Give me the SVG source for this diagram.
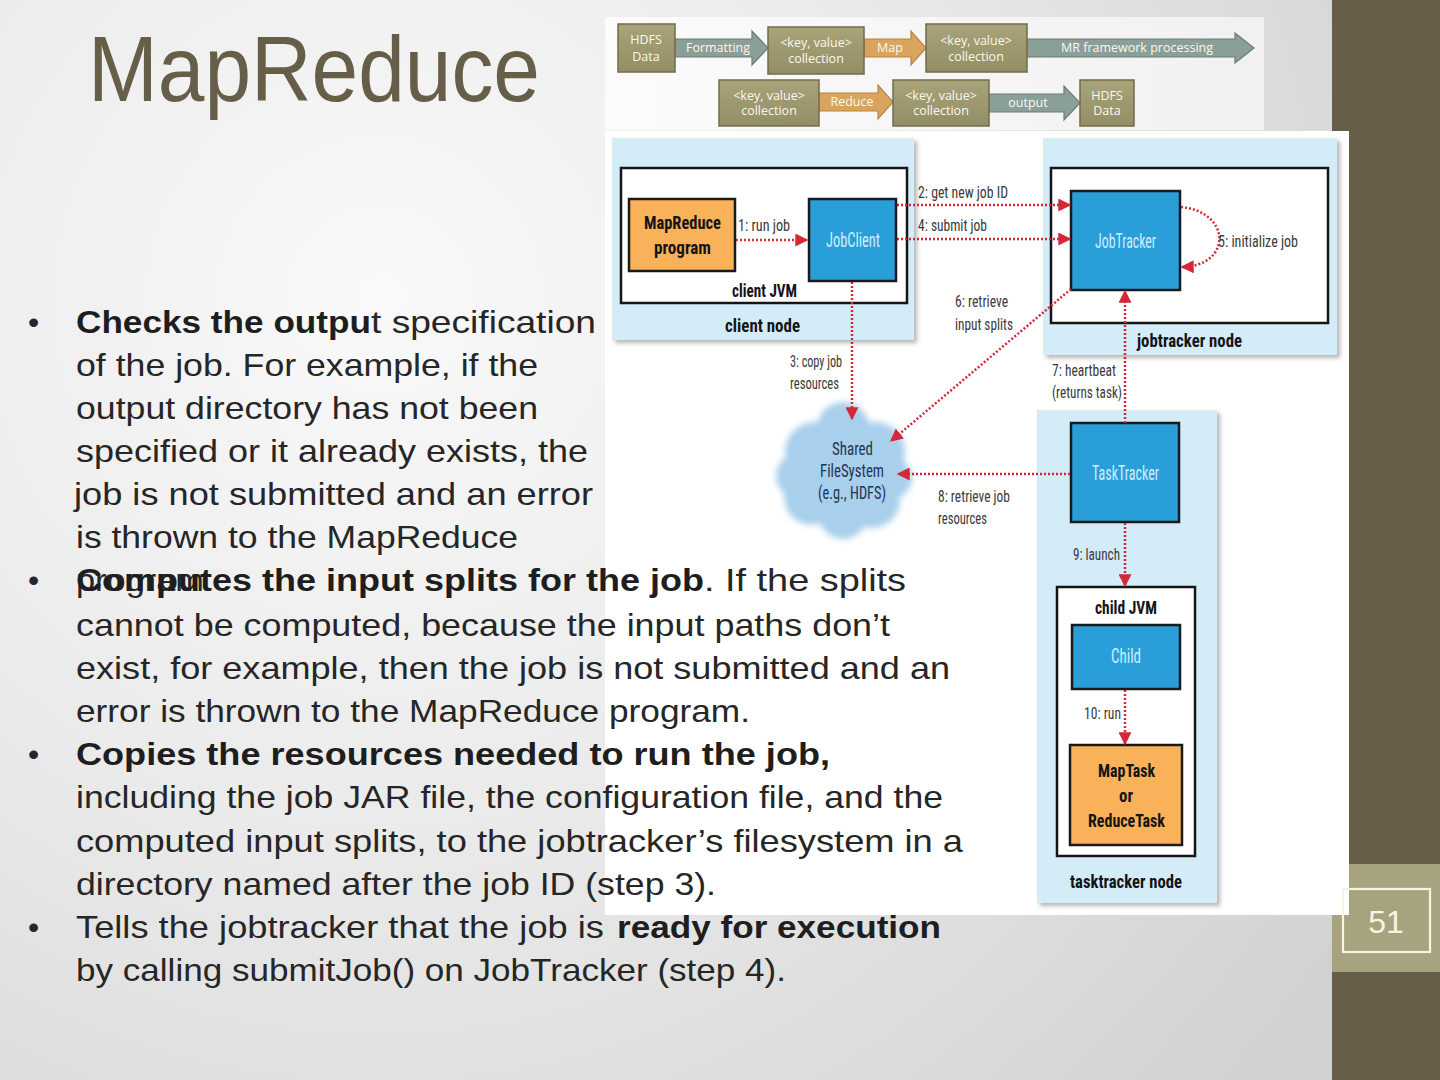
<svg xmlns="http://www.w3.org/2000/svg" width="1440" height="1080" viewBox="0 0 1440 1080">
<defs>
  <radialGradient id="bg" gradientUnits="userSpaceOnUse" cx="380" cy="300" r="1150">
    <stop offset="0" stop-color="#f9f9f9"/>
    <stop offset="0.45" stop-color="#ebebeb"/>
    <stop offset="1" stop-color="#d2d2d2"/>
  </radialGradient>
  <linearGradient id="strip" x1="0" y1="0" x2="1" y2="0">
    <stop offset="0" stop-color="#fbfbfb"/>
    <stop offset="1" stop-color="#f1f1f1"/>
  </linearGradient>
  <linearGradient id="olive" x1="0" y1="0" x2="0" y2="1">
    <stop offset="0" stop-color="#a9a37a"/>
    <stop offset="1" stop-color="#948e66"/>
  </linearGradient>
  <filter id="sh" x="-10%" y="-10%" width="125%" height="125%">
    <feDropShadow dx="3" dy="3" stdDeviation="2" flood-color="#7a7a7a" flood-opacity="0.55"/>
  </filter>
  <filter id="blur" x="-20%" y="-20%" width="140%" height="140%">
    <feGaussianBlur stdDeviation="3"/>
  </filter>
  <marker id="ah" viewBox="0 0 10 10" refX="9" refY="5" markerWidth="13" markerHeight="13" markerUnits="userSpaceOnUse" orient="auto">
    <path d="M0,0 L10,5 L0,10 z" fill="#d4283a"/>
  </marker>
  <style>
    .body{font-family:"Liberation Sans",Arial,sans-serif;font-size:32px;fill:#262626}
    .b{font-weight:bold;fill:#1e1e1e}
    .sbox{fill:url(#olive);stroke:#726c4a;stroke-width:1.5}
    .stxt{font-family:"Open Sans","Liberation Sans",sans-serif;font-size:12.5px;fill:#fbf8ec;text-anchor:middle}
    .garrow{fill:#8b9f99;stroke:#6b7d77;stroke-width:1.2}
    .oarrow{fill:#d9a55e;stroke:#b88644;stroke-width:1.2}
    .panel{fill:#d3ecf8}
    .jvm{fill:#ffffff;stroke:#151515;stroke-width:2.5}
    .blue{fill:#2a9ed9;stroke:#1a1a1a;stroke-width:2.5}
    .orange{fill:#f9b25a;stroke:#1a1a1a;stroke-width:2.5}
    .lbl{font-family:"Liberation Sans Narrow","Roboto Condensed","DejaVu Sans Condensed","Liberation Sans",sans-serif;font-size:16.5px;fill:#3a3a3a}
    .btxt{font-family:"Liberation Sans Narrow","Roboto Condensed","DejaVu Sans Condensed","Liberation Sans",sans-serif;font-size:20px;fill:#cdeeff}
    .bold{font-family:"Liberation Sans Narrow","Roboto Condensed","DejaVu Sans Condensed","Liberation Sans",sans-serif;font-size:19px;font-weight:bold;fill:#141414}
    .cl{font-family:"Liberation Sans Narrow","Roboto Condensed","DejaVu Sans Condensed","Liberation Sans",sans-serif;font-size:19px;fill:#1f3550}
    .dot{fill:none;stroke:#d4283a;stroke-width:2.5;stroke-dasharray:2 2}
  </style>
</defs>

<!-- background -->
<rect x="0" y="0" width="1440" height="1080" fill="url(#bg)"/>

<!-- right side bar -->
<g id="sidebar">
  <rect x="1332" y="0" width="108" height="1080" fill="#665e48"/>
  <rect x="1332" y="864" width="108" height="108" fill="#a8a37f"/>
</g>

<!-- title -->
<text id="title" x="88" y="101" font-family="'Liberation Sans',Arial,sans-serif" font-size="92" fill="#665e48" textLength="452" lengthAdjust="spacingAndGlyphs">MapReduce</text>

<!-- top flow strip -->
<g id="flowstrip">
  <rect x="605" y="17" width="659" height="113" fill="url(#strip)"/>
  <polygon class="garrow" points="675,39 752,39 752,31 768,48 752,65 752,57 675,57"/>
  <polygon class="oarrow" points="864,39 911,39 911,31 926,48 911,65 911,57 864,57"/>
  <polygon class="garrow" points="1027,39 1235,39 1235,33 1254,48 1235,63 1235,57 1027,57"/>
  <polygon class="oarrow" points="819,93 878,93 878,85 893,102 878,119 878,111 819,111"/>
  <polygon class="garrow" points="989,94 1064,94 1064,86 1080,103 1064,120 1064,112 989,112"/>
  <g id="s-hdfs1"><rect class="sbox" x="618" y="24" width="57" height="48"/>
    <text class="stxt" x="646" y="44">HDFS</text><text class="stxt" x="646" y="61">Data</text></g>
  <g id="s-kv1"><rect class="sbox" x="768" y="27" width="96" height="47"/>
    <text class="stxt" x="816" y="47">&lt;key, value&gt;</text><text class="stxt" x="816" y="63">collection</text></g>
  <g id="s-kv2"><rect class="sbox" x="926" y="24" width="101" height="48"/>
    <text class="stxt" x="976" y="45">&lt;key, value&gt;</text><text class="stxt" x="976" y="61">collection</text></g>
  <g id="s-kv3"><rect class="sbox" x="719" y="80" width="100" height="46"/>
    <text class="stxt" x="769" y="100">&lt;key, value&gt;</text><text class="stxt" x="769" y="115">collection</text></g>
  <g id="s-kv4"><rect class="sbox" x="893" y="80" width="96" height="46"/>
    <text class="stxt" x="941" y="100">&lt;key, value&gt;</text><text class="stxt" x="941" y="115">collection</text></g>
  <g id="s-hdfs2"><rect class="sbox" x="1080" y="80" width="54" height="46"/>
    <text class="stxt" x="1107" y="100">HDFS</text><text class="stxt" x="1107" y="115">Data</text></g>
  <text class="stxt" x="718" y="52">Formatting</text>
  <text class="stxt" x="890" y="52">Map</text>
  <text class="stxt" x="1137" y="52">MR framework processing</text>
  <text class="stxt" x="852" y="106">Reduce</text>
  <text class="stxt" x="1028" y="107">output</text>
</g>

<!-- main diagram image area -->
<rect x="605" y="131" width="744" height="784" fill="#ffffff"/>

<g id="client-node">
  <rect class="panel" x="612" y="138" width="302" height="202" filter="url(#sh)"/>
  <text class="bold" x="725" y="332" textLength="75" lengthAdjust="spacingAndGlyphs">client node</text>
</g>
<g id="client-jvm">
  <rect class="jvm" x="621" y="168" width="286" height="135"/>
  <text class="bold" x="732" y="297" textLength="65" lengthAdjust="spacingAndGlyphs">client JVM</text>
</g>
<g id="mr-program">
  <rect class="orange" x="629" y="199" width="106" height="72"/>
  <text class="bold" x="644" y="229" font-size="20" fill="#2a1d10" textLength="77" lengthAdjust="spacingAndGlyphs">MapReduce</text>
  <text class="bold" x="654" y="254" font-size="20" fill="#2a1d10" textLength="57" lengthAdjust="spacingAndGlyphs">program</text>
</g>
<g id="jobclient">
  <rect class="blue" x="809" y="199" width="87" height="82"/>
  <text class="btxt" x="826" y="247" textLength="54" lengthAdjust="spacingAndGlyphs">JobClient</text>
</g>

<g id="jobtracker-node">
  <rect class="panel" x="1043" y="138" width="294" height="217" filter="url(#sh)"/>
  <rect class="jvm" x="1051" y="168" width="277" height="155"/>
  <text class="bold" x="1137" y="347" textLength="105" lengthAdjust="spacingAndGlyphs">jobtracker node</text>
</g>
<g id="jobtracker">
  <rect class="blue" x="1071" y="191" width="109" height="99"/>
  <text class="btxt" x="1095" y="248" textLength="61" lengthAdjust="spacingAndGlyphs">JobTracker</text>
</g>

<g id="shared-fs">
  <g fill="#a8cfeb" filter="url(#blur)">
    <circle cx="845" cy="472" r="46"/>
    <circle cx="815" cy="452" r="30"/>
    <circle cx="875" cy="452" r="30"/>
    <circle cx="843" cy="428" r="26"/>
    <circle cx="812" cy="497" r="28"/>
    <circle cx="872" cy="500" r="28"/>
    <circle cx="798" cy="476" r="22"/>
    <circle cx="892" cy="478" r="20"/>
    <circle cx="843" cy="515" r="24"/>
  </g>
  <text class="cl" x="832" y="455" textLength="41" lengthAdjust="spacingAndGlyphs">Shared</text>
  <text class="cl" x="820" y="477" textLength="64" lengthAdjust="spacingAndGlyphs">FileSystem</text>
  <text class="cl" x="818" y="499" textLength="68" lengthAdjust="spacingAndGlyphs">(e.g., HDFS)</text>
</g>

<g id="tasktracker-node">
  <rect class="panel" x="1037" y="410" width="180" height="493" filter="url(#sh)"/>
  <text class="bold" x="1070" y="888" textLength="112" lengthAdjust="spacingAndGlyphs">tasktracker node</text>
</g>
<g id="tasktracker">
  <rect class="blue" x="1071" y="423" width="108" height="99"/>
  <text class="btxt" x="1092" y="480" textLength="67" lengthAdjust="spacingAndGlyphs">TaskTracker</text>
</g>
<g id="child-jvm">
  <rect class="jvm" x="1057" y="587" width="138" height="269"/>
  <text class="bold" x="1095" y="614" textLength="62" lengthAdjust="spacingAndGlyphs">child JVM</text>
</g>
<g id="child">
  <rect class="blue" x="1072" y="625" width="108" height="64"/>
  <text class="btxt" x="1111" y="663" textLength="30" lengthAdjust="spacingAndGlyphs">Child</text>
</g>
<g id="maptask">
  <rect class="orange" x="1070" y="745" width="112" height="100"/>
  <text class="bold" x="1098" y="777" font-size="20" fill="#2a1d10" textLength="57" lengthAdjust="spacingAndGlyphs">MapTask</text>
  <text class="bold" x="1119" y="802" font-size="20" fill="#2a1d10" textLength="14" lengthAdjust="spacingAndGlyphs">or</text>
  <text class="bold" x="1088" y="827" font-size="20" fill="#2a1d10" textLength="77" lengthAdjust="spacingAndGlyphs">ReduceTask</text>
</g>

<!-- connectors -->
<g id="connectors">
  <path class="dot" d="M736,240 L807,240" marker-end="url(#ah)"/>
  <path class="dot" d="M897,205 L1070,205" marker-end="url(#ah)"/>
  <path class="dot" d="M897,239 L1070,239" marker-end="url(#ah)"/>
  <path class="dot" d="M1181,207 C1232,212 1232,266 1182,267" marker-end="url(#ah)"/>
  <path class="dot" d="M1071,289 L891,441" marker-end="url(#ah)"/>
  <path class="dot" d="M852,282 L852,419" marker-end="url(#ah)"/>
  <path class="dot" d="M1125,423 L1125,291" marker-end="url(#ah)"/>
  <path class="dot" d="M1070,474 L898,474" marker-end="url(#ah)"/>
  <path class="dot" d="M1125,523 L1125,586" marker-end="url(#ah)"/>
  <path class="dot" d="M1125,690 L1125,744" marker-end="url(#ah)"/>
  <text class="lbl" x="738" y="231" textLength="52" lengthAdjust="spacingAndGlyphs">1: run job</text>
  <text class="lbl" x="918" y="198" textLength="90" lengthAdjust="spacingAndGlyphs">2: get new job ID</text>
  <text class="lbl" x="918" y="231" textLength="69" lengthAdjust="spacingAndGlyphs">4: submit job</text>
  <text class="lbl" x="1218" y="247" textLength="80" lengthAdjust="spacingAndGlyphs">5: initialize job</text>
  <text class="lbl" x="955" y="307" textLength="53" lengthAdjust="spacingAndGlyphs">6: retrieve</text>
  <text class="lbl" x="955" y="330" textLength="58" lengthAdjust="spacingAndGlyphs">input splits</text>
  <text class="lbl" x="790" y="367" textLength="52" lengthAdjust="spacingAndGlyphs">3: copy job</text>
  <text class="lbl" x="790" y="389" textLength="49" lengthAdjust="spacingAndGlyphs">resources</text>
  <text class="lbl" x="1052" y="376" textLength="64" lengthAdjust="spacingAndGlyphs">7: heartbeat</text>
  <text class="lbl" x="1052" y="398" textLength="70" lengthAdjust="spacingAndGlyphs">(returns task)</text>
  <text class="lbl" x="938" y="502" textLength="72" lengthAdjust="spacingAndGlyphs">8: retrieve job</text>
  <text class="lbl" x="938" y="524" textLength="49" lengthAdjust="spacingAndGlyphs">resources</text>
  <text class="lbl" x="1073" y="560" textLength="47" lengthAdjust="spacingAndGlyphs">9: launch</text>
  <text class="lbl" x="1084" y="719" textLength="37" lengthAdjust="spacingAndGlyphs">10: run</text>
</g>

<!-- slide number -->
<g id="slide-number">
  <rect x="1343" y="889" width="87" height="63" fill="none" stroke="#f8f4e2" stroke-width="2.2"/>
  <text x="1386" y="933" font-family="'Liberation Sans',Arial,sans-serif" font-size="32" fill="#f8f4e2" text-anchor="middle">51</text>
</g>

<!-- body text -->
<g id="body-text" class="body">
  <text x="28" y="333">•</text>
  <text x="28" y="591">•</text>
  <text x="28" y="765">•</text>
  <text x="28" y="938">•</text>

  <text y="333"><tspan class="b" x="76" textLength="295" lengthAdjust="spacingAndGlyphs">Checks the outpu</tspan><tspan x="371" textLength="225" lengthAdjust="spacingAndGlyphs">t specification</tspan></text>
  <text x="76" y="376" textLength="462" lengthAdjust="spacingAndGlyphs">of the job. For example, if the</text>
  <text x="76" y="419" textLength="462" lengthAdjust="spacingAndGlyphs">output directory has not been</text>
  <text x="76" y="462" textLength="512" lengthAdjust="spacingAndGlyphs">specified or it already exists, the</text>
  <text x="74" y="505" textLength="519" lengthAdjust="spacingAndGlyphs">job is not submitted and an error</text>
  <text x="76" y="548" textLength="442" lengthAdjust="spacingAndGlyphs">is thrown to the MapReduce</text>
  <text x="76" y="591" textLength="128" lengthAdjust="spacingAndGlyphs">program</text>

  <text y="591"><tspan class="b" x="76" textLength="628" lengthAdjust="spacingAndGlyphs">Computes the input splits for the job</tspan><tspan x="704" textLength="202" lengthAdjust="spacingAndGlyphs">. If the splits</tspan></text>
  <text x="76" y="636" textLength="814" lengthAdjust="spacingAndGlyphs">cannot be computed, because the input paths don’t</text>
  <text x="76" y="679" textLength="874" lengthAdjust="spacingAndGlyphs">exist, for example, then the job is not submitted and an</text>
  <text x="76" y="722" textLength="674" lengthAdjust="spacingAndGlyphs">error is thrown to the MapReduce program.</text>

  <text class="b" x="76" y="765" textLength="754" lengthAdjust="spacingAndGlyphs">Copies the resources needed to run the job,</text>
  <text x="76" y="808" textLength="867" lengthAdjust="spacingAndGlyphs">including the job JAR file, the configuration file, and the</text>
  <text x="76" y="852" textLength="887" lengthAdjust="spacingAndGlyphs">computed input splits, to the jobtracker’s filesystem in a</text>
  <text x="76" y="895" textLength="640" lengthAdjust="spacingAndGlyphs">directory named after the job ID (step 3).</text>

  <text y="938"><tspan x="76" textLength="528" lengthAdjust="spacingAndGlyphs">Tells the jobtracker that the job is</tspan><tspan class="b" x="617" textLength="324" lengthAdjust="spacingAndGlyphs">ready for execution</tspan></text>
  <text x="76" y="981" textLength="710" lengthAdjust="spacingAndGlyphs">by calling submitJob() on JobTracker (step 4).</text>
</g>
</svg>
